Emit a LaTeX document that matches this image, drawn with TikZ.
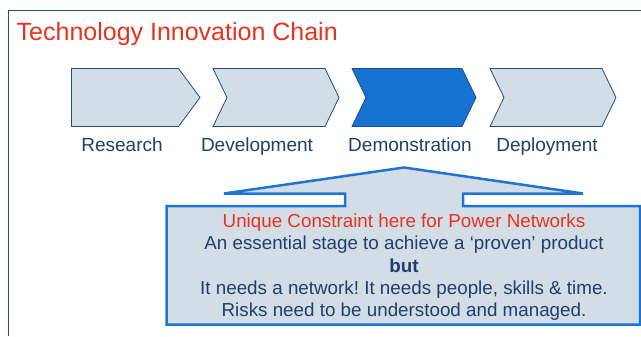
\documentclass[tikz,border=0pt]{standalone}
\usepackage{fontspec}
\setmainfont{Liberation Sans}
\usetikzlibrary{positioning}
\frenchspacing
\definecolor{titlered}{HTML}{E8321E}
\definecolor{navytext}{HTML}{1F3F6E}
\definecolor{frameblue}{HTML}{1F4E79}
\definecolor{chevfill}{HTML}{D2DDE6}
\definecolor{chevline}{HTML}{1F4E79}
\definecolor{demofill}{HTML}{1872D2}
\definecolor{demoline}{HTML}{1A4F8A}
\definecolor{callblue}{HTML}{1E74D4}
\tikzset{
  chev/.style={draw=chevline, fill=chevfill, line width=0.8bp, line join=miter},
  steplabel/.style={anchor=base, text=navytext, inner sep=0pt, font=\fontsize{19bp}{22bp}\selectfont},
  calltext/.style={anchor=base, text=navytext, inner sep=0pt, font=\fontsize{18.8bp}{22bp}\selectfont},
  callout/.style={draw=callblue, fill=chevfill, line width=2.5bp, line join=miter}
}
\begin{document}
\begin{tikzpicture}[x=1bp,y=-1bp]
  \useasboundingbox (0,0) rectangle (641,336);

  % frame and title
  \draw [frameblue, line width=1.8bp] (8.5,336) -- (8.5,10.5) -- (641,10.5);
  \node [anchor=base west, inner sep=0pt, text=titlered, font=\fontsize{25bp}{30bp}\selectfont] (title) at (16.5,40) {Technology Innovation Chain};

  % the chain
  \draw [chev] (71.5,68.5) -- (178.5,68.5) -- (200,97.5) -- (178.5,126.5) -- (71.5,126.5) -- cycle;
  \foreach \l/\r in {213/325, 490/602}
    \draw [chev] (\l,68.5) -- (\r,68.5) -- ++(14,29) -- (\r,126.5) -- (\l,126.5) -- ++(14,-29) -- cycle;
  \draw [chev, fill=demofill, draw=demoline] (352,68.5) -- (462,68.5) -- ++(14,29) -- (462,126.5) -- (352,126.5) -- ++(14,-29) -- cycle;

  \node [steplabel] (research) at (122,151.7) {Research};
  \node [steplabel] (development) at (257,151.7) {Development};
  \node [steplabel] (demonstration) at (410,151.7) {Demonstration};
  \node [steplabel] (deployment) at (547,151.7) {Deployment};

  % callout
  \draw [callout] (166.5,206) -- (345,206) -- (345,193.5) -- (224,193.5) -- (404,167.5) -- (583,193.5) -- (463,193.5) -- (463,206) -- (640,206) -- (640,324.5) -- (166.5,324.5) -- cycle;

  \node [calltext, text=titlered] (constraint) at (404,227.3) {Unique Constraint here for Power Networks};
  \node [calltext] (essential) at (404,249.8) {An essential stage to achieve a ‘proven’ product};
  \node [calltext, font=\fontsize{18.8bp}{22bp}\selectfont\bfseries] (but) at (404,272) {but};
  \node [calltext] (network) at (404,294.3) {It needs a network! It needs people, skills \& time.};
  \node [calltext] (risks) at (404,316.7) {Risks need to be understood and managed.};
\end{tikzpicture}
\end{document}
